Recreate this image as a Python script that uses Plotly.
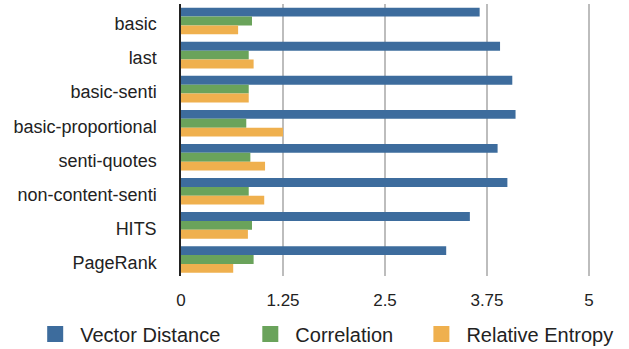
import plotly.graph_objects as go

# Ranking methods and their scores under three evaluation measures
methods = ["basic", "last", "basic-senti", "basic-proportional",
           "senti-quotes", "non-content-senti", "HITS", "PageRank"]
vector_distance = [3.66, 3.91, 4.06, 4.10, 3.88, 4.00, 3.54, 3.25]
correlation = [0.87, 0.83, 0.83, 0.80, 0.85, 0.83, 0.87, 0.89]
relative_entropy = [0.70, 0.89, 0.83, 1.25, 1.03, 1.02, 0.82, 0.64]
x_ticks = [0, 1.25, 2.5, 3.75, 5]
x_tick_text = ["0", "1.25", "2.5", "3.75", "5"]

series = [
    ("Vector Distance", vector_distance, "#3D6C9D", "legend", 0.048),
    ("Correlation", correlation, "#6AA35B", "legend2", 0.390),
    ("Relative Entropy", relative_entropy, "#EFB04E", "legend3", 0.662),
]

fig = go.Figure()
for name, vals, color, leg, _ in series:
    fig.add_trace(go.Bar(
        y=methods, x=vals, name=name, orientation="h",
        marker=dict(color=color, line=dict(width=0)),
        showlegend=False, legendgroup=name,
    ))
    # square swatch shown in the legend only
    fig.add_trace(go.Scatter(
        x=[None], y=[None], mode="markers", name=name,
        marker=dict(symbol="square", size=17, color=color),
        legend=leg, legendgroup=name, showlegend=True, hoverinfo="skip",
    ))

legend_style = dict(
    orientation="h", xref="container", yref="container",
    xanchor="left", y=0.043, yanchor="middle",
    font=dict(size=20, color="#222222"),
    itemwidth=40, bgcolor="rgba(0,0,0,0)",
)
layout_legends = {}
for name, vals, color, leg, xpos in series:
    layout_legends[leg] = dict(legend_style, x=xpos)

fig.update_layout(
    width=629, height=349,
    margin=dict(l=181, r=9, t=4, b=69),
    barmode="group", bargap=0.22, bargroupgap=0,
    plot_bgcolor="white", paper_bgcolor="white",
    font=dict(family="Liberation Sans, Arial, sans-serif", size=17, color="#222222"),
    **layout_legends,
)
fig.update_xaxes(
    range=[0, 5.38], tickvals=x_ticks, ticktext=x_tick_text,
    showgrid=True, gridcolor="#BDBDBD", gridwidth=1.5,
    zeroline=False, showline=False, ticks="", ticklabelstandoff=12,
    tickfont=dict(size=17),
)
fig.update_yaxes(
    autorange="reversed", showgrid=False,
    showline=True, linecolor="#222222", linewidth=1.5,
    ticks="", ticklabelstandoff=19, ticklabelshift=-3, tickfont=dict(size=18),
)

fig.write_html("out.html")
